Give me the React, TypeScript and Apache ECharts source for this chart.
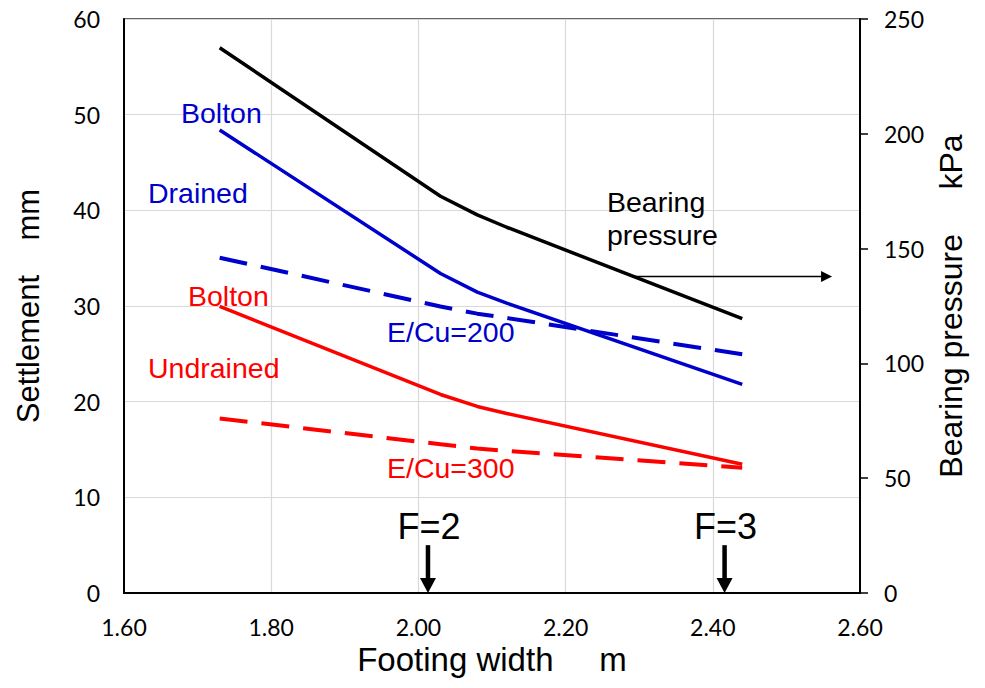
import React, { useEffect, useRef } from "react";
import * as echarts from "echarts";

// Footing width B (m)
const footingWidth = [1.73, 2.03, 2.08, 2.12, 2.44];
// Bearing pressure (kPa) - right axis
const bearingPressure = [237.5, 172.8, 164.7, 159.3, 119.5];
// Settlement (mm) - left axis
const boltonDrained = [48.4, 33.4, 31.45, 30.3, 21.8];
const eCu200Drained = [35.05, 29.95, 29.2, 28.75, 24.95];
const boltonUndrained = [29.95, 20.75, 19.5, 18.77, 13.45];
const eCu300Undrained = [18.25, 15.55, 15.1, 14.85, 13.1];

// Factor of safety markers (footing width, m)
const fsMarkers = [
  { label: "F=2", b: 2.013 },
  { label: "F=3", b: 2.416 },
];

const BLUE = "#0000CC";
const RED = "#FF0000";
const SANS = "'Liberation Sans', Arial, sans-serif";
const TICK = "Lato, 'Open Sans', sans-serif";

const pairs = (ys: number[]) => footingWidth.map((b, i) => [b, ys[i]]);

export default function App() {
  const ref = useRef<HTMLDivElement>(null);
  useEffect(() => {
    if (!ref.current) return;
    const chart = echarts.init(ref.current, undefined, { renderer: "svg" });
    const tickLabel = { fontFamily: TICK, fontSize: 23, color: "#000" };
    const nameStyle = { fontFamily: SANS, fontSize: 32, color: "#000" };
    chart.setOption({
      animation: false,
      backgroundColor: "#fff",
      grid: { left: 124, right: 125, top: 19, bottom: 95, show: true, borderColor: "#333", borderWidth: 1.5 },
      xAxis: {
        type: "value",
        min: 1.6,
        max: 2.6,
        interval: 0.2,
        axisLine: { show: true, onZero: false, lineStyle: { color: "#000", width: 2 } },
        axisTick: { show: false },
        splitLine: { show: true, lineStyle: { color: "#d9d9d9", width: 1.2 } },
        axisLabel: { ...tickLabel, margin: 22, formatter: (v: number) => v.toFixed(2) },
        name: "Footing width     m",
        nameLocation: "middle",
        nameGap: 49,
        nameTextStyle: { ...nameStyle, fontSize: 33 },
      },
      yAxis: [
        {
          type: "value",
          position: "left",
          min: 0,
          max: 60,
          interval: 10,
          axisLine: { show: true, onZero: false, lineStyle: { color: "#000", width: 2 } },
          axisTick: { show: false },
          splitLine: { show: true, lineStyle: { color: "#d9d9d9", width: 1.2 } },
          axisLabel: { ...tickLabel, margin: 24 },
          name: "Settlement    mm",
          nameLocation: "middle",
          nameRotate: 90,
          nameGap: 80,
          nameTextStyle: { ...nameStyle, fontSize: 31 },
        },
        {
          type: "value",
          position: "right",
          min: 0,
          max: 250,
          interval: 50,
          axisLine: { show: true, onZero: false, lineStyle: { color: "#000", width: 2 } },
          axisTick: { show: true, inside: false, length: 8, lineStyle: { color: "#000", width: 1.5 } },
          splitLine: { show: false },
          axisLabel: { ...tickLabel, margin: 24 },
          name: "Bearing pressure     kPa",
          nameLocation: "middle",
          nameRotate: 90,
          nameGap: 72,
          nameTextStyle: nameStyle,
        },
      ],
      series: [
        {
          name: "Bearing pressure",
          type: "line",
          yAxisIndex: 1,
          data: pairs(bearingPressure),
          symbol: "none",
          lineStyle: { color: "#000", width: 3.5 },
        },
        {
          name: "Bolton drained",
          type: "line",
          yAxisIndex: 0,
          data: pairs(boltonDrained),
          symbol: "none",
          lineStyle: { color: BLUE, width: 3.5 },
        },
        {
          name: "E/Cu=200 drained",
          type: "line",
          yAxisIndex: 0,
          data: pairs(eCu200Drained),
          symbol: "none",
          lineStyle: { color: BLUE, width: 4, type: [28, 14] },
        },
        {
          name: "Bolton undrained",
          type: "line",
          yAxisIndex: 0,
          data: pairs(boltonUndrained),
          symbol: "none",
          lineStyle: { color: RED, width: 3.5 },
        },
        {
          name: "E/Cu=300 undrained",
          type: "line",
          yAxisIndex: 0,
          data: pairs(eCu300Undrained),
          symbol: "none",
          lineStyle: { color: RED, width: 4, type: [28, 14] },
        },
      ],
    });

    const txt = (text: string, x: number, baseline: number, color: string, size = 28.5) => ({
      type: "text",
      x,
      y: baseline - size * 0.35,
      silent: true,
      style: { text, fill: color, font: `${size}px ${SANS}`, textAlign: "left", textVerticalAlign: "middle" },
    });

    const graphics: any[] = [
      txt("Bolton", 181, 123, BLUE),
      txt("Drained", 148, 203, BLUE),
      txt("Bolton", 188, 306, RED),
      txt("Undrained", 148, 378, RED),
      txt("E/Cu=200", 387, 342, BLUE),
      txt("E/Cu=300", 387, 478, RED),
      txt("Bearing", 607, 212, "#000"),
      txt("pressure", 607, 245, "#000"),
    ];

    // Bearing-pressure pointer arrow (points towards right axis)
    const a0 = chart.convertToPixel({ xAxisIndex: 0, yAxisIndex: 1 }, [2.29, 137.8]) as number[];
    const a1 = chart.convertToPixel({ xAxisIndex: 0, yAxisIndex: 1 }, [2.562, 137.8]) as number[];
    graphics.push({
      type: "line",
      silent: true,
      shape: { x1: a0[0], y1: a0[1], x2: a1[0] - 10, y2: a1[1] },
      style: { stroke: "#000", lineWidth: 1.5 },
    });
    graphics.push({
      type: "polygon",
      silent: true,
      shape: { points: [[a1[0] - 11, a1[1] - 5.5], [a1[0], a1[1]], [a1[0] - 11, a1[1] + 5.5]] },
      style: { fill: "#000" },
    });

    // Factor of safety arrows
    fsMarkers.forEach((m) => {
      const top = chart.convertToPixel({ xAxisIndex: 0, yAxisIndex: 0 }, [m.b, 5]) as number[];
      const bot = chart.convertToPixel({ xAxisIndex: 0, yAxisIndex: 0 }, [m.b, 0]) as number[];
      graphics.push({
        type: "line",
        silent: true,
        shape: { x1: top[0], y1: top[1], x2: bot[0], y2: bot[1] - 12 },
        style: { stroke: "#000", lineWidth: 4.5 },
      });
      graphics.push({
        type: "polygon",
        silent: true,
        shape: { points: [[bot[0] - 8, bot[1] - 15], [bot[0] + 8, bot[1] - 15], [bot[0], bot[1]]] },
        style: { fill: "#000" },
      });
      graphics.push({
        type: "text",
        x: top[0] + 1,
        y: top[1] - 6 - 36 * 0.35,
        silent: true,
        style: { text: m.label, fill: "#000", font: `36px ${SANS}`, textAlign: "center", textVerticalAlign: "middle" },
      });
    });

    chart.setOption({ graphic: graphics });
    return () => chart.dispose();
  }, []);
  return <div ref={ref} style={{ position: "fixed", left: 0, top: 0, width: 985, height: 688 }} />;
}
